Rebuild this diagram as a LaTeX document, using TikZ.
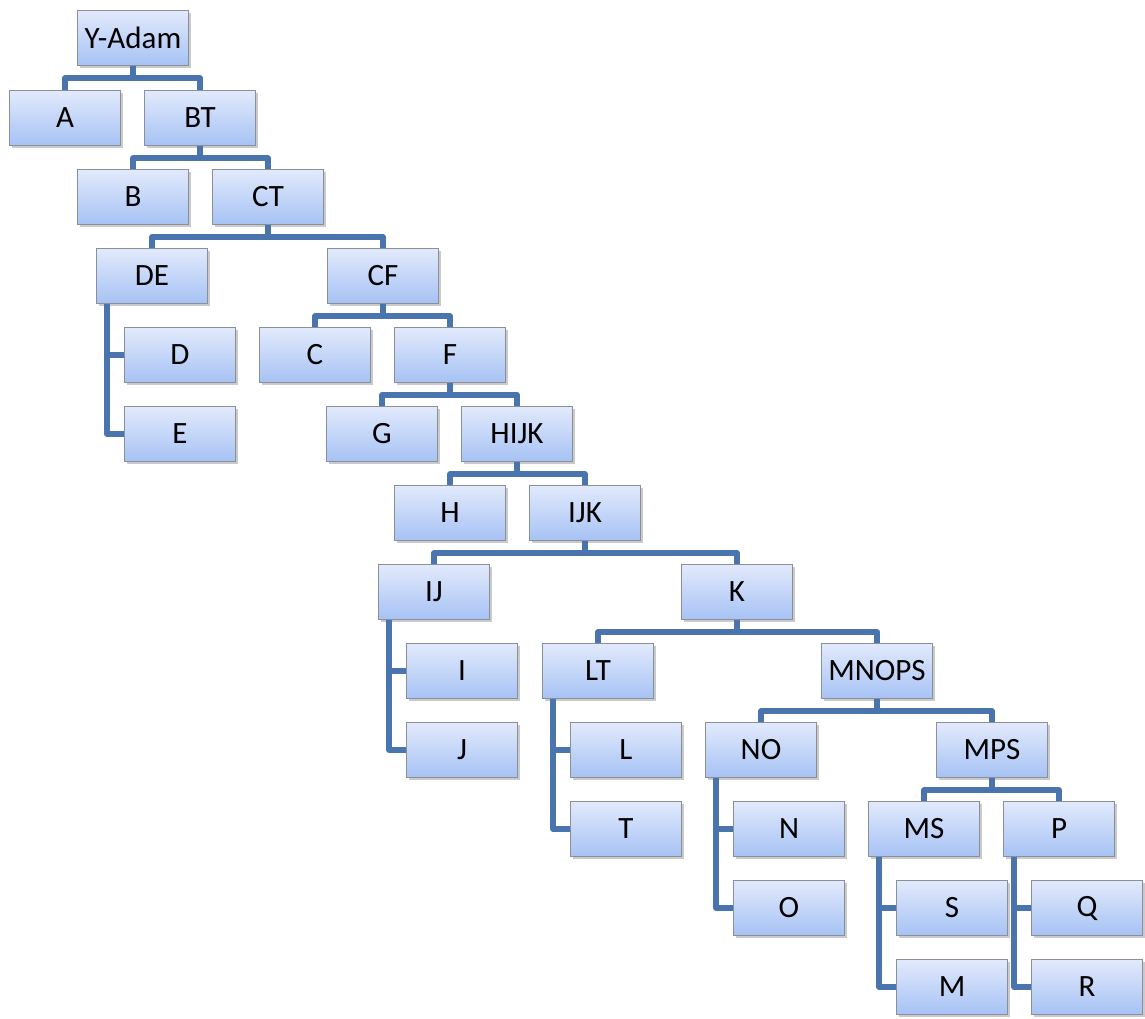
\documentclass[tikz,border=0pt]{standalone}
\usepackage{fontspec}
\setmainfont{Carlito}
\usetikzlibrary{shadows}
\definecolor{boxtop}{HTML}{E2EAFC}
\definecolor{boxbot}{HTML}{A6C2F4}
\definecolor{boxline}{HTML}{8A8F98}
\definecolor{conncol}{HTML}{4A74AD}
\tikzset{
  box/.style={draw=boxline, line width=0.8pt, top color=boxtop, bottom color=boxbot,
    minimum width=111pt, minimum height=55pt, inner sep=0pt,
    font=\fontsize{31}{34}\selectfont,
    drop shadow={shadow xshift=2pt, shadow yshift=-2.5pt, opacity=0.35, fill=black!60}},
  conn/.style={draw=conncol, line width=5.5pt, line join=round, line cap=butt},
}
\begin{document}
\begin{tikzpicture}[x=1pt,y=-1pt]
\useasboundingbox (0,0) rectangle (1145,1019);
\node[box] (yadam) at (133,38) {Y-Adam};
\node[box] (a) at (65,118) {A};
\node[box] (bt) at (200,118) {BT};
\node[box] (b) at (133,197) {B};
\node[box] (ct) at (268,197) {CT};
\node[box] (de) at (152,276) {DE};
\node[box] (cf) at (383,276) {CF};
\node[box] (d) at (180,355) {D};
\node[box] (e) at (180,434) {E};
\node[box] (c) at (315,355) {C};
\node[box] (f) at (450,355) {F};
\node[box] (g) at (382,434) {G};
\node[box] (hijk) at (517,434) {HIJK};
\node[box] (h) at (450,513) {H};
\node[box] (ijk) at (585,513) {IJK};
\node[box] (ij) at (434,592) {IJ};
\node[box] (k) at (737,592) {K};
\node[box] (i) at (462,671) {I};
\node[box] (j) at (462,750) {J};
\node[box] (lt) at (598,671) {LT};
\node[box] (mnops) at (877,671) {MNOPS};
\node[box] (l) at (626,750) {L};
\node[box] (t) at (626,829) {T};
\node[box] (no) at (761,750) {NO};
\node[box] (mps) at (992,750) {MPS};
\node[box] (n) at (789,829) {N};
\node[box] (o) at (789,908) {O};
\node[box] (ms) at (924,829) {MS};
\node[box] (p) at (1059,829) {P};
\node[box] (s) at (952,908) {S};
\node[box] (m) at (952,987) {M};
\node[box] (q) at (1087,908) {Q};
\node[box] (r) at (1087,987) {R};
% tree connectors
\foreach \p/\x in {yadam/a, yadam/bt, bt/b, bt/ct, ct/de, ct/cf, cf/c, cf/f, f/g, f/hijk,
  hijk/h, hijk/ijk, ijk/ij, ijk/k, k/lt, k/mnops, mnops/no, mnops/mps, mps/ms, mps/p}
  \draw[conn] (\p.south) -- ++(0,12) -| (\x.north);
\foreach \p/\x in {de/d, de/e, ij/i, ij/j, lt/l, lt/t, no/n, no/o, ms/s, ms/m, p/q, p/r}
  \draw[conn] ([xshift=11pt]\p.south west) |- (\x.west);
\end{tikzpicture}
\end{document}
